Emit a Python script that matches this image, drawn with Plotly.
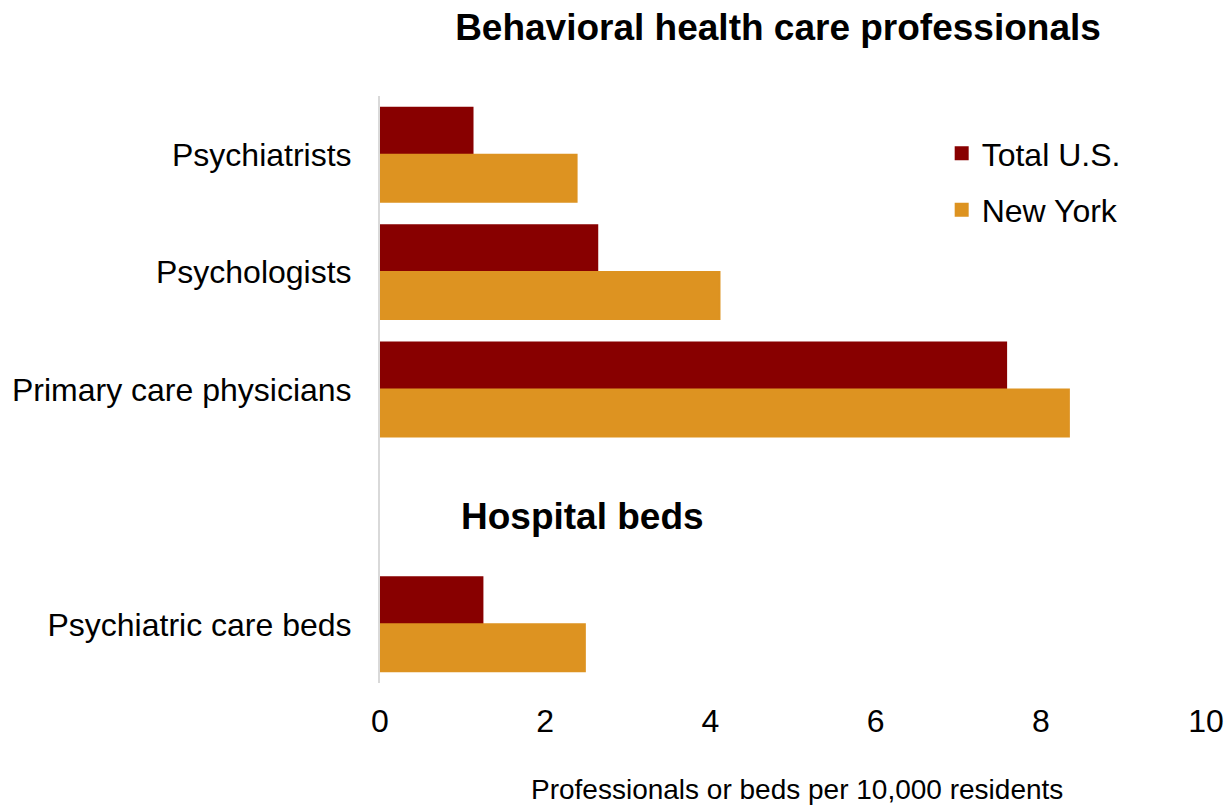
import plotly.graph_objects as go

categories = ["Psychiatrists", "Psychologists", "Primary care physicians", "", "Psychiatric care beds"]
total_us = [1.12, 2.63, 7.58, None, 1.24]
new_york = [2.38, 4.11, 8.34, None, 2.48]
x_ticks = [0, 2, 4, 6, 8, 10]

FONT = "Liberation Sans, Arial, sans-serif"
pos = list(range(len(categories)))

fig = go.Figure()
fig.add_trace(go.Bar(
    y=pos, x=total_us, orientation="h", name="Total U.S.",
    marker=dict(color="#880000", line=dict(color="#880000", width=2)),
    legendgroup="us",
))
fig.add_trace(go.Bar(
    y=pos, x=new_york, orientation="h", name="New York",
    marker=dict(color="#DD9321", line=dict(color="#DD9321", width=2)),
    legendgroup="ny",
))

fig.update_xaxes(
    range=[0, 10], tickvals=x_ticks, showgrid=False, zeroline=False,
    showline=False, ticks="outside", ticklen=10, tickcolor="rgba(0,0,0,0)",
    tickfont=dict(size=32, color="#000000"), automargin=False,
    ticklabeloverflow="allow",
)
fig.update_yaxes(
    tickvals=pos, ticktext=categories, range=[4.5, -0.5], automargin=False,
    showgrid=False, zeroline=False, showline=True, linecolor="#d9d9d9", linewidth=2,
    ticks="outside", ticklen=20, tickcolor="rgba(0,0,0,0)",
    tickfont=dict(size=32, color="#000000"),
)

fig.add_annotation(
    text="<b>Hospital beds</b>", x=2.45, y=3.08, xref="x", yref="y",
    showarrow=False, font=dict(size=37, color="#000000", family=FONT),
)
# x axis title
fig.add_annotation(
    text="Professionals or beds per 10,000 residents",
    x=0.505, y=-0.181, xref="paper", yref="paper", xanchor="center", yanchor="middle",
    showarrow=False, font=dict(size=28, color="#000000", family=FONT),
)

fig.update_layout(
    width=1228, height=806,
    margin=dict(l=380, r=22, t=96, b=123),
    paper_bgcolor="#ffffff", plot_bgcolor="#ffffff",
    font=dict(family=FONT, size=32, color="#000000"),
    barmode="group", bargap=0.2, bargroupgap=0,
    title=dict(text="<b>Behavioral health care professionals</b>",
               x=778 / 1228, xanchor="center", xref="container",
               y=1 - 27 / 806, yanchor="middle", yref="container",
               font=dict(size=37, color="#000000")),
    legend=dict(x=0.68, y=0.949, xanchor="left", yanchor="top",
                font=dict(size=32), traceorder="grouped", tracegroupgap=12,
                bgcolor="rgba(0,0,0,0)"),
    showlegend=True,
)

# drop the default page margin so the figure fills the window exactly
fig.write_html("out.html", config={"displayModeBar": False},
               post_script="document.body.style.margin = '0';")
